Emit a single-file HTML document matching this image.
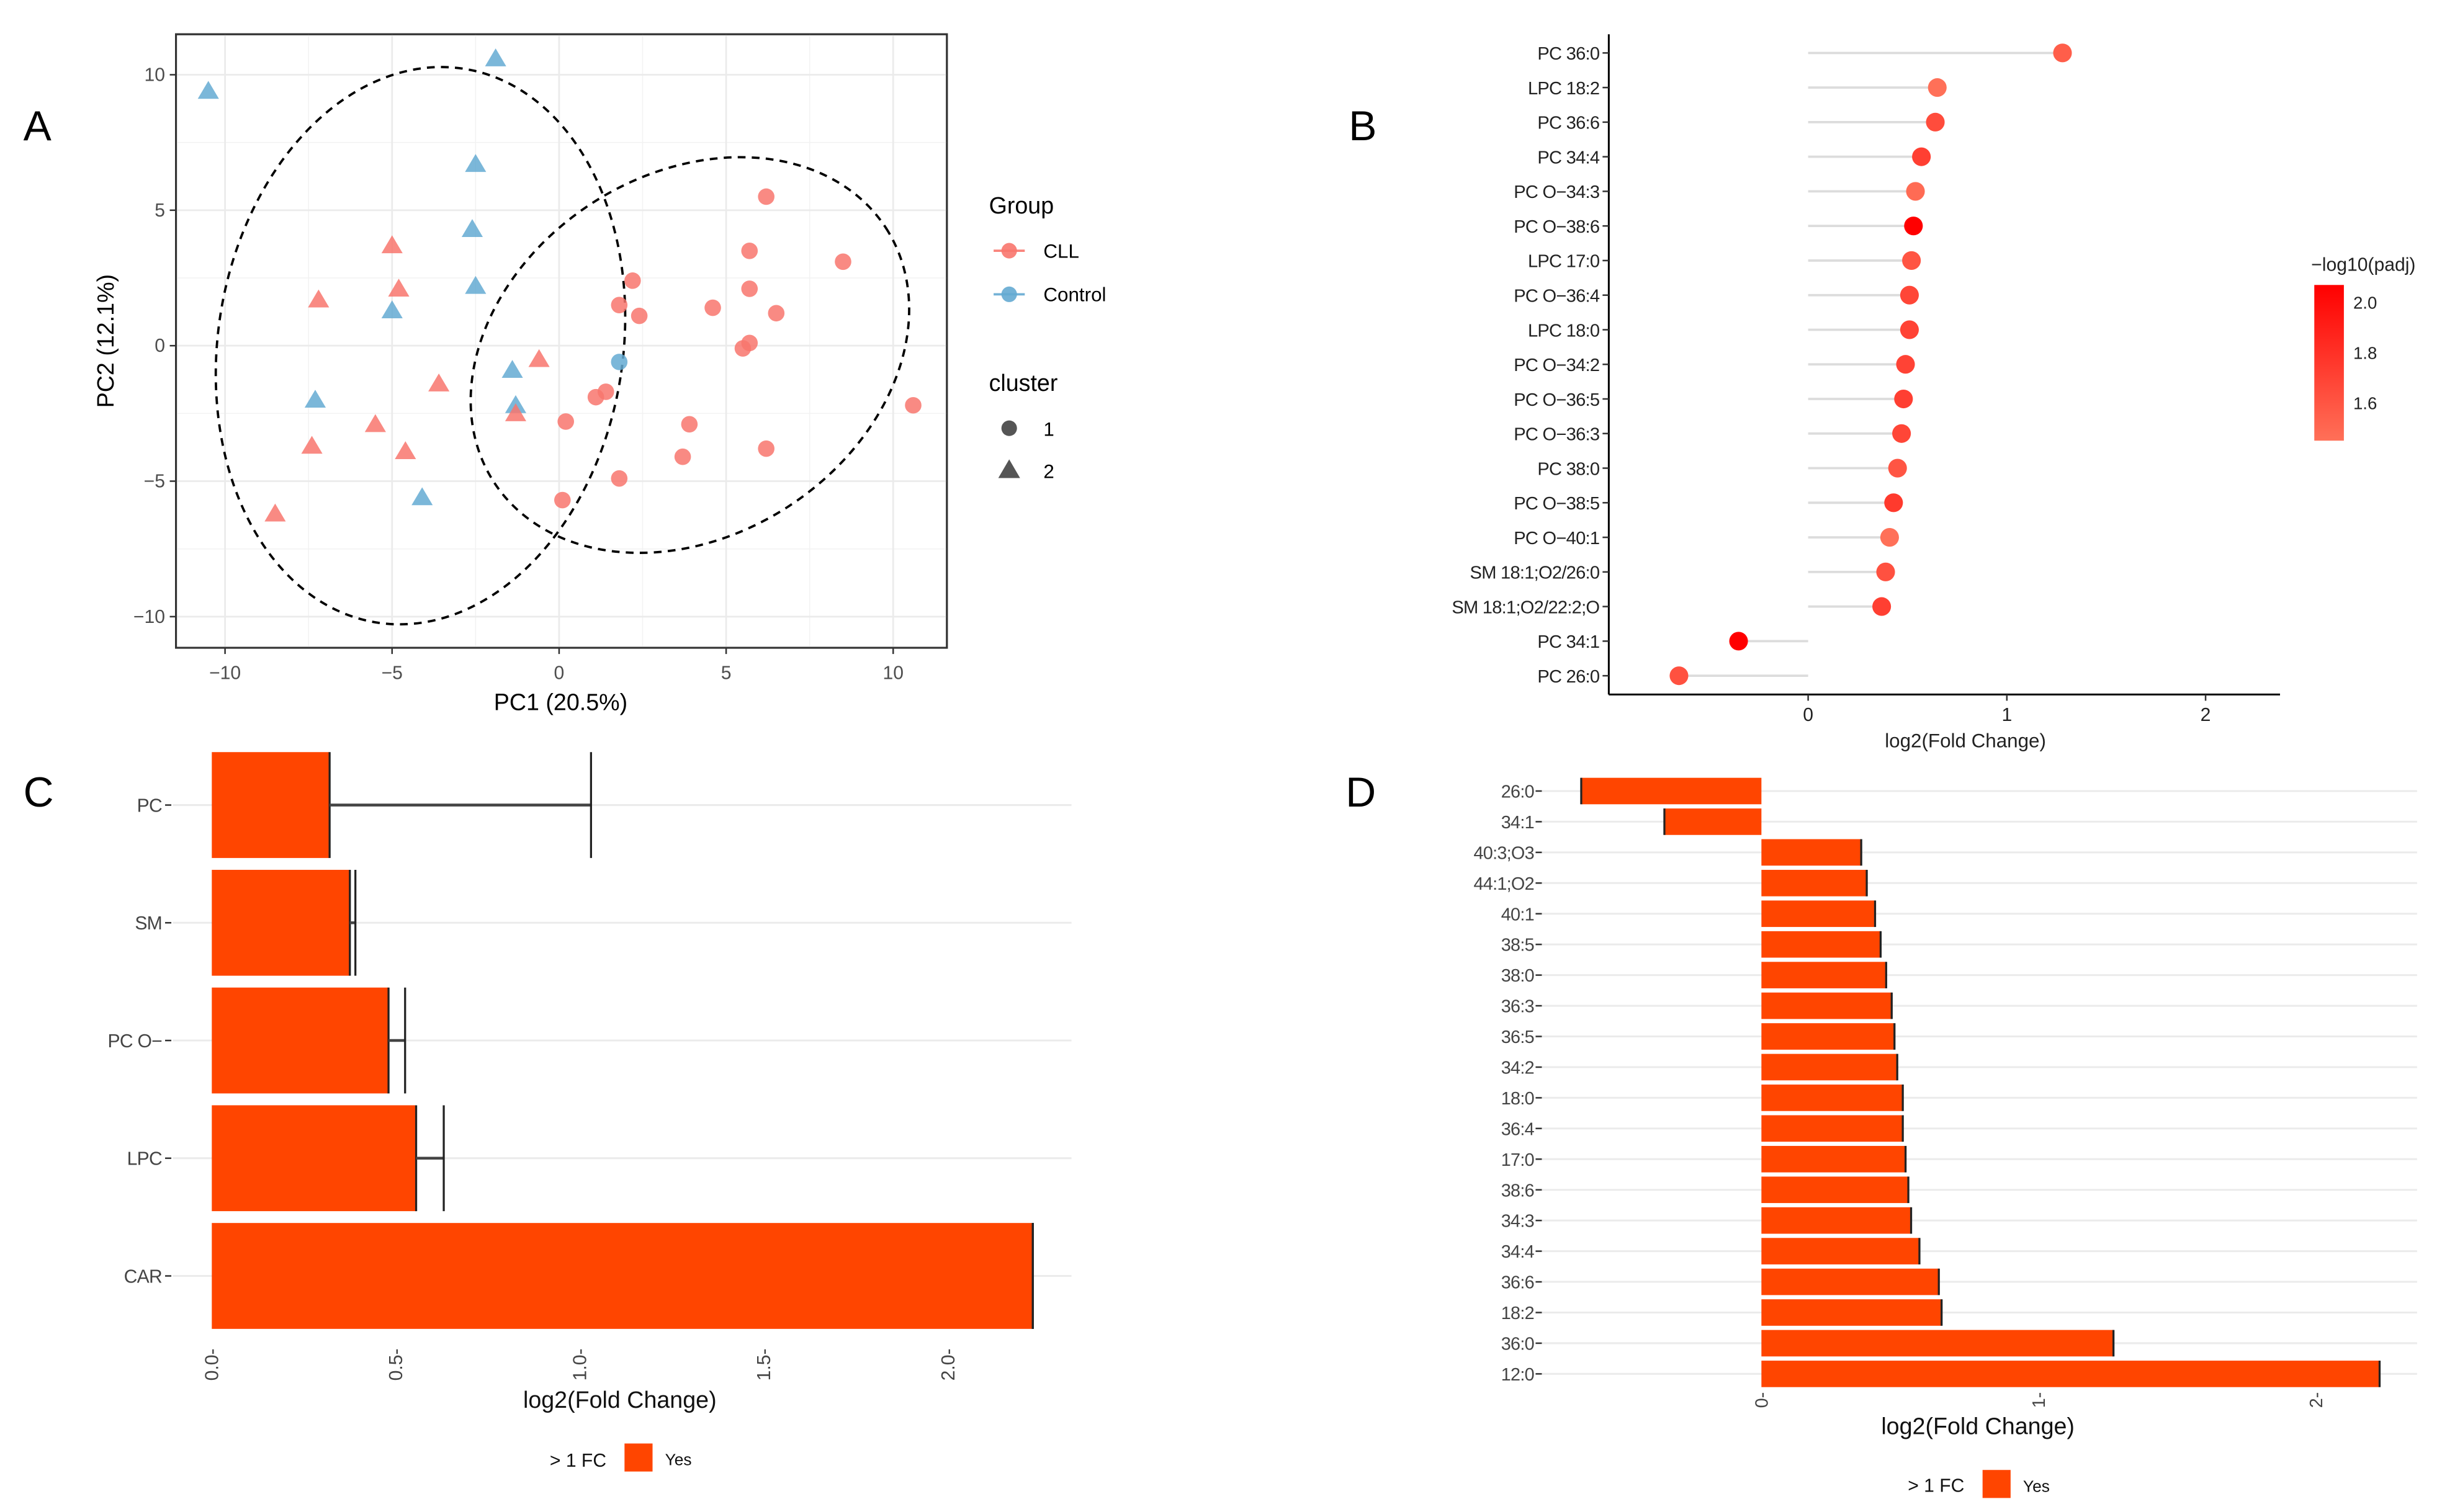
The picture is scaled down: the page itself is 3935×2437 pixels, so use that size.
<!DOCTYPE html>
<html><head><meta charset="utf-8"><style>
html,body{margin:0;padding:0;background:#fff;}
svg{display:block;font-family:"Liberation Sans",Arial,sans-serif;}
</style></head><body>
<svg id="fig" width="3935" height="2437" viewBox="0 0 1568 971" preserveAspectRatio="none" xmlns="http://www.w3.org/2000/svg">
<g id="A"></g>
<g id="B"></g>
<g id="C"></g>
<g id="D"></g>
</svg>
<script>
// ---------- Panel A data ----------
const pcaX = [-10.5,-1.9,-2.5,-2.6,-2.5,-5.0,-7.3,-1.4,-1.3,-4.1, 1.8, -5.0,-4.8,-7.2,-0.6,-3.6,-5.5,-7.4,-4.6,-1.3,-8.5, 6.2,5.7,8.5,2.2,5.7,1.8,2.4,4.6,6.5,5.7,5.5,1.4,1.1,0.2,3.9,3.7,6.2,1.8,0.1,10.6];
const pcaY = [9.4,10.6,6.7,4.3,2.2,1.3,-2.0,-0.9,-2.2,-5.6, -0.6, 3.7,2.1,1.7,-0.5,-1.4,-2.9,-3.7,-3.9,-2.5,-6.2, 5.5,3.5,3.1,2.4,2.1,1.5,1.1,1.4,1.2,0.1,-0.1,-1.7,-1.9,-2.8,-2.9,-4.1,-3.8,-4.9,-5.7,-2.2];
const pcaGroup = ["Control","Control","Control","Control","Control","Control","Control","Control","Control","Control","Control","CLL","CLL","CLL","CLL","CLL","CLL","CLL","CLL","CLL","CLL","CLL","CLL","CLL","CLL","CLL","CLL","CLL","CLL","CLL","CLL","CLL","CLL","CLL","CLL","CLL","CLL","CLL","CLL","CLL","CLL"];
const pcaCluster = [2,2,2,2,2,2,2,2,2,2,1,2,2,2,2,2,2,2,2,2,2,1,1,1,1,1,1,1,1,1,1,1,1,1,1,1,1,1,1,1,1];
const pcaTicks = [-10,-5,0,5,10];
// ---------- Panel B data ----------
const lipidNames = ["PC 36:0","LPC 18:2","PC 36:6","PC 34:4","PC O\u221234:3","PC O\u221238:6","LPC 17:0","PC O\u221236:4","LPC 18:0","PC O\u221234:2","PC O\u221236:5","PC O\u221236:3","PC 38:0","PC O\u221238:5","PC O\u221240:1","SM 18:1;O2/26:0","SM 18:1;O2/22:2;O","PC 34:1","PC 26:0"];
const lipidFC = [1.28,0.65,0.64,0.57,0.54,0.53,0.52,0.51,0.51,0.49,0.48,0.47,0.45,0.43,0.41,0.39,0.37,-0.35,-0.65];
const lipidPadj = [1.55,1.45,1.65,1.72,1.48,2.07,1.6,1.68,1.7,1.7,1.72,1.68,1.6,1.75,1.45,1.62,1.72,2.07,1.62];
const bTicks = [0,1,2];
const cbarTicks = [2.0,1.8,1.6];
// ---------- Panel C data ----------
const classNames = ["PC","SM","PC O\u2212","LPC","CAR"];
const classFC = [0.32,0.375,0.48,0.555,2.23];
const classErr = [1.03,0.39,0.525,0.63,2.23];
const cTicks = ["0.0","0.5","1.0","1.5","2.0"];
// ---------- Panel D data ----------
const speciesNames = ["26:0","34:1","40:3;O3","44:1;O2","40:1","38:5","38:0","36:3","36:5","34:2","18:0","36:4","17:0","38:6","34:3","34:4","36:6","18:2","36:0","12:0"];
const speciesFC = [-0.65,-0.35,0.36,0.38,0.41,0.43,0.45,0.47,0.48,0.49,0.51,0.51,0.52,0.53,0.54,0.57,0.64,0.65,1.27,2.23];
const dTicks = [0,1,2];

const NS="http://www.w3.org/2000/svg";
function mk(parent,tag,attrs,text){const e=document.createElementNS(NS,tag);for(const k in attrs)e.setAttribute(k,attrs[k]);if(text!==undefined)e.textContent=text;parent.appendChild(e);return e;}
const grey="#4d4d4d";

// ===== Panel A =====
(function(){
const g=document.getElementById('A');
const xs=v=>359+v*21.45, ys=v=>222-v*17.4;
const L=mk(g,'text',{x:15,y:90,'font-size':27,fill:'#000'},'A');

const bg=mk(g,'rect',{x:113,y:22,width:495,height:394,fill:'#fff',stroke:'#333','stroke-width':1.2});

[-7.5,-2.5,2.5,7.5].forEach(v=>mk(g,'line',{x1:xs(v),x2:xs(v),y1:22,y2:416,stroke:'#f2f2f2','stroke-width':0.6}));
[-7.5,-2.5,2.5,7.5].forEach(v=>mk(g,'line',{x1:113,x2:608,y1:ys(v),y2:ys(v),stroke:'#f2f2f2','stroke-width':0.6}));
pcaTicks.forEach(v=>{
 mk(g,'line',{x1:xs(v),x2:xs(v),y1:22,y2:416,stroke:'#ebebeb','stroke-width':1.1});
 mk(g,'line',{x1:113,x2:608,y1:ys(v),y2:ys(v),stroke:'#ebebeb','stroke-width':1.1});
 mk(g,'line',{x1:xs(v),x2:xs(v),y1:416,y2:420,stroke:'#333'});
 mk(g,'line',{x1:109,x2:113,y1:ys(v),y2:ys(v),stroke:'#333'});
 const tx=mk(g,'text',{x:xs(v),y:436,'font-size':12,fill:grey,'text-anchor':'middle'},v<0?'\u2212'+(-v):String(v));
 
 const ty=mk(g,'text',{x:106,y:ys(v)+4,'font-size':12,fill:grey,'text-anchor':'end'},v<0?'\u2212'+(-v):String(v));
 
});
mk(g,'rect',{x:113,y:22,width:495,height:394,fill:'none',stroke:'#333','stroke-width':1.2});
const e1=mk(g,'ellipse',{cx:270,cy:222,rx:130,ry:180,transform:'rotate(9 270 222)',fill:'none',stroke:'#000','stroke-width':1.5,'stroke-dasharray':'5,4'});

const e2=mk(g,'ellipse',{cx:443,cy:228,rx:150,ry:116,transform:'rotate(-33 443 228)',fill:'none',stroke:'#000','stroke-width':1.5,'stroke-dasharray':'5,4'});

for(let i=0;i<pcaX.length;i++){
 const col=pcaGroup[i]==='CLL'?'rgba(248,118,109,0.85)':'rgba(100,170,210,0.85)';
 const x=xs(pcaX[i]),y=ys(pcaY[i]);let m;
 if(pcaCluster[i]===1) m=mk(g,'circle',{cx:x,cy:y,r:5.3,fill:col});
 else m=mk(g,'polygon',{points:`${x},${y-6.5} ${x-6.8},${y+5} ${x+6.8},${y+5}`,fill:col});
 
}
const xt=mk(g,'text',{x:360,y:456,'font-size':15,fill:'#000','text-anchor':'middle'},'PC1 (20.5%)');

const yt=mk(g,'text',{x:0,y:0,'font-size':15,fill:'#000','text-anchor':'middle',transform:'translate(73,219) rotate(-90)'},'PC2 (12.1%)');

const lg=mk(g,'g',{});
mk(lg,'text',{x:635,y:137,'font-size':15,fill:'#000'},'Group');
[['CLL','rgba(248,118,109,0.9)',161],['Control','rgba(100,170,210,0.9)',189]].forEach(([t,c,y])=>{
 const en=mk(lg,'g',{});
 mk(en,'line',{x1:638,x2:658,y1:y,y2:y,stroke:c,'stroke-width':1.5});
 mk(en,'circle',{cx:648,cy:y,r:5,fill:c});
 mk(en,'text',{x:670,y:y+4.5,'font-size':12.5,fill:'#000'},t);
});
mk(lg,'text',{x:635,y:251,'font-size':15,fill:'#000'},'cluster');
const en1=mk(lg,'g',{});
mk(en1,'circle',{cx:648,cy:275,r:5,fill:'#555'});mk(en1,'text',{x:670,y:280,'font-size':12.5,fill:'#000'},'1');
const en2=mk(lg,'g',{});
mk(en2,'polygon',{points:'648,295 641,307 655,307',fill:'#555'});mk(en2,'text',{x:670,y:307,'font-size':12.5,fill:'#000'},'2');
})();

// ===== Panel B =====
(function(){
const g=document.getElementById('B');
const xs=v=>1161+v*127.6, ys=i=>34+i*22.22;
const L=mk(g,'text',{x:866,y:90,'font-size':27,fill:'#000'},'B');

function col(p){const t=Math.max(0,Math.min(1,(p-1.45)/(2.07-1.45)));const gg=Math.round(112*(1-t)),b=Math.round(88*(1-t));return `rgb(255,${gg},${b})`;}
mk(g,'line',{x1:1033,x2:1033,y1:22,y2:446,stroke:'#000','stroke-width':1.2});
mk(g,'line',{x1:1033,x2:1464,y1:446,y2:446,stroke:'#000','stroke-width':1.2});
lipidNames.forEach((n,i)=>{
 const y=ys(i);
 const seg=mk(g,'line',{x1:xs(0),x2:xs(lipidFC[i]),y1:y,y2:y,stroke:'#dcdcdc','stroke-width':1.5});
 
 const c=mk(g,'circle',{cx:xs(lipidFC[i]),cy:y,r:6,fill:col(lipidPadj[i])});
 
 mk(g,'line',{x1:1029,x2:1033,y1:y,y2:y,stroke:'#333'});
 const t=mk(g,'text',{x:1027,y:y+4.3,'font-size':11.6,fill:'#222','text-anchor':'end','letter-spacing':'-0.3'},n);
 
});
bTicks.forEach(v=>{
 mk(g,'line',{x1:xs(v),x2:xs(v),y1:446,y2:450,stroke:'#333'});
 const t=mk(g,'text',{x:xs(v),y:463,'font-size':12,fill:'#222','text-anchor':'middle'},String(v));
 
});
const xt=mk(g,'text',{x:1262,y:480,'font-size':12.5,fill:'#222','text-anchor':'middle'},'log2(Fold Change)');

const cb=mk(g,'g',{});
const defs=mk(cb,'defs',{});const lgd=mk(defs,'linearGradient',{id:'cbg',x1:0,y1:0,x2:0,y2:1});
mk(lgd,'stop',{offset:0,'stop-color':'#ff0000'});mk(lgd,'stop',{offset:1,'stop-color':'#ff7058'});
mk(cb,'text',{x:1484,y:174,'font-size':12,fill:'#222'},'\u2212log10(padj)');
mk(cb,'rect',{x:1486,y:183,width:19,height:100,fill:'url(#cbg)'});
cbarTicks.forEach(v=>{const y=183+(2.07-v)/(2.07-1.45)*100;
 mk(cb,'text',{x:1511,y:y+4,'font-size':11,fill:'#222'},v.toFixed(1));});
})();

// ===== Panel C =====
(function(){
const g=document.getElementById('C');
const xs=v=>136+v*236.4; const yc=i=>517+i*75.6; const bh=68;
const L=mk(g,'text',{x:15,y:518,'font-size':27,fill:'#000'},'C');

classNames.forEach((n,i)=>{
 mk(g,'line',{x1:111,x2:688,y1:yc(i),y2:yc(i),stroke:'#ebebeb','stroke-width':1.2});
});
classNames.forEach((n,i)=>{
 const y=yc(i);
 const b=mk(g,'rect',{x:xs(0),y:y-bh/2,width:xs(classFC[i])-xs(0),height:bh,fill:'#ff4500'});
 
 mk(g,'line',{x1:xs(classFC[i]),x2:xs(classFC[i]),y1:y-bh/2,y2:y+bh/2,stroke:'#222','stroke-width':1.3});
 const eb=mk(g,'g',{});
 mk(eb,'line',{x1:xs(classFC[i]),x2:xs(classErr[i]),y1:y,y2:y,stroke:'#444','stroke-width':1.8});
 mk(eb,'line',{x1:xs(classErr[i]),x2:xs(classErr[i]),y1:y-bh/2,y2:y+bh/2,stroke:'#222','stroke-width':1.3});
 mk(g,'line',{x1:106,x2:110,y1:y,y2:y,stroke:'#333'});
 const t=mk(g,'text',{x:104,y:y+4.3,'font-size':12,fill:'#444','text-anchor':'end','letter-spacing':'-0.3'},n);
 
});
cTicks.forEach(s=>{const x=xs(parseFloat(s));
 const t=mk(g,'text',{x:0,y:0,'font-size':12,fill:'#444','text-anchor':'end',transform:`translate(${x+4},866) rotate(-90)`},s+'-');
 
});
const xt=mk(g,'text',{x:398,y:904,'font-size':15,fill:'#111','text-anchor':'middle'},'log2(Fold Change)');

const lg=mk(g,'g',{});
mk(lg,'text',{x:353,y:942,'font-size':12,fill:'#111'},'> 1 FC');
mk(lg,'rect',{x:401,y:927,width:18,height:18,fill:'#ff4500'});
mk(lg,'text',{x:427,y:941,'font-size':10.5,fill:'#111'},'Yes');
})();

// ===== Panel D =====
(function(){
const g=document.getElementById('D');
const xs=v=>1131+v*178; const yc=i=>508+i*19.7; const bh=17;
const L=mk(g,'text',{x:864,y:518,'font-size':27,fill:'#000'},'D');

speciesNames.forEach((n,i)=>mk(g,'line',{x1:990,x2:1552,y1:yc(i),y2:yc(i),stroke:'#ebebeb','stroke-width':1.2}));
speciesNames.forEach((n,i)=>{
 const y=yc(i),v=speciesFC[i];
 const x0=Math.min(xs(0),xs(v)),w=Math.abs(xs(v)-xs(0));
 const b=mk(g,'rect',{x:x0,y:y-bh/2,width:w,height:bh,fill:'#ff4500'});
 
 mk(g,'line',{x1:xs(v),x2:xs(v),y1:y-bh/2,y2:y+bh/2,stroke:'#222','stroke-width':1.3});
 mk(g,'line',{x1:986,x2:990,y1:y,y2:y,stroke:'#333'});
 const t=mk(g,'text',{x:985,y:y+4.2,'font-size':11.5,fill:'#444','text-anchor':'end','letter-spacing':'-0.3'},n);
 
});
dTicks.forEach(v=>{const x=xs(v);
 const t=mk(g,'text',{x:0,y:0,'font-size':11.5,fill:'#444','text-anchor':'end',transform:`translate(${x+4},894) rotate(-90)`},v+'-');
 
});
const xt=mk(g,'text',{x:1270,y:921,'font-size':15,fill:'#111','text-anchor':'middle'},'log2(Fold Change)');

const lg=mk(g,'g',{});
mk(lg,'text',{x:1225,y:958,'font-size':12,fill:'#111'},'> 1 FC');
mk(lg,'rect',{x:1273,y:944,width:18,height:18,fill:'#ff4500'});
mk(lg,'text',{x:1299,y:958,'font-size':10.5,fill:'#111'},'Yes');
})();
</script>
</body></html>
